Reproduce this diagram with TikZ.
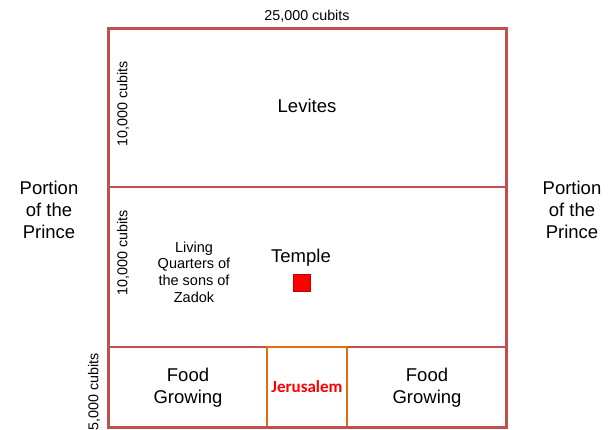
\documentclass[tikz,border=0pt]{standalone}
\usepackage{fontspec}
\setmainfont{Liberation Sans}
\newfontfamily\calibrifont{Carlito}
\usepackage{tikz}
\usetikzlibrary{positioning}

\definecolor{plotred}{HTML}{C0504D}
\definecolor{cityorange}{HTML}{E46C0A}
\definecolor{templered}{HTML}{FF0000}
\definecolor{templeedge}{HTML}{C00000}

\begin{document}
\begin{tikzpicture}[
        x=1pt, y=-1pt,
        bigtext/.style={align=center, inner sep=0pt, font=\fontsize{18.5}{22}\selectfont},
        smalltext/.style={align=center, inner sep=0pt, font=\fontsize{14.5}{16.7}\selectfont},
        cubitlabel/.style={inner sep=0pt, font=\fontsize{14.3}{16}\selectfont},
        citytext/.style={inner sep=0pt, text=templered, font=\calibrifont\bfseries\fontsize{17}{19}\selectfont},
        outerline/.style={draw=plotred, line width=3pt},
        innerline/.style={draw=plotred, line width=1.8pt}
    ]
        \useasboundingbox (0,0) rectangle (609,430);

        % Divisions of the holy portion
        \draw[innerline] (108,187) -- (506,187);
        \draw[innerline] (108,347) -- (506,347);
        \draw[draw=cityorange, line width=2pt] (267,347) rectangle (347,427);
        \draw[outerline] (108,29) rectangle (506,427);

        % Temple
        \node[draw=templeedge, fill=templered, line width=0.8pt, minimum size=17pt, inner sep=0pt] (sq) at (302,283) {};
        \node[bigtext] (temple) at (301,258) {Temple};

        % Sections
        \node[bigtext] (levites) at (307,106) {Levites};
        \node[smalltext] (zadok) at (194,272) {Living\\Quarters of\\the sons of\\Zadok};
        \node[bigtext] (foodl) at (188,388) {Food\\Growing};
        \node[citytext] (city) at (307,387) {Jerusalem};
        \node[bigtext] (foodr) at (427,388) {Food\\Growing};

        % Prince on both sides
        \node[bigtext] (princel) at (49,210) {Portion\\of the\\Prince};
        \node[bigtext] (princer) at (572,210) {Portion\\of the\\Prince};

        % Measurements
        \node[cubitlabel] (width) at (307,16) {25,000 cubits};
        \node[cubitlabel, rotate=90] (levh) at (123,104) {10,000 cubits};
        \node[cubitlabel, rotate=90] (temh) at (123,253) {10,000 cubits};
        \node[cubitlabel, rotate=90] (cityh) at (94,392) {5,000 cubits};
    \end{tikzpicture}
\end{document}
